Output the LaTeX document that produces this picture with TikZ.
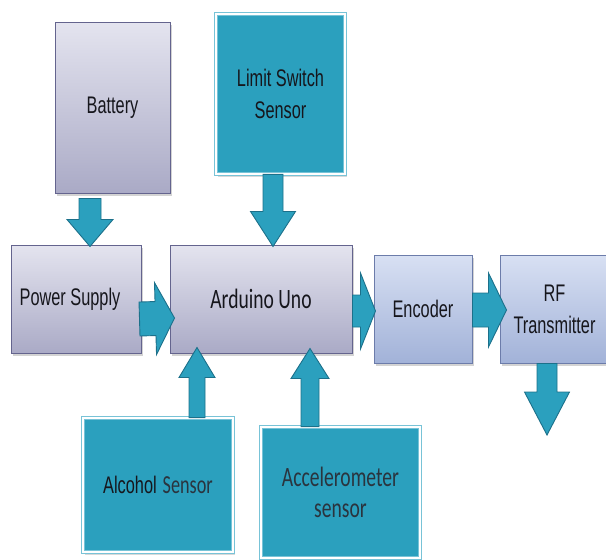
\documentclass[tikz,border=0pt]{standalone}
\usepackage{fontspec}
\setmainfont{Liberation Sans}
\newfontfamily\narrowfont[FakeStretch=0.68]{Liberation Sans}
\newfontfamily\calfont[FakeStretch=0.7]{Carlito}
\usetikzlibrary{positioning,calc,shadows}

\definecolor{sensorteal}{RGB}{43,160,190}
\definecolor{edgeteal}{RGB}{120,195,215}
\definecolor{arrowline}{RGB}{28,112,138}
\definecolor{graytop}{RGB}{228,228,239}
\definecolor{graybot}{RGB}{170,170,198}
\definecolor{grayline}{RGB}{100,100,142}
\definecolor{bluetop}{RGB}{216,224,243}
\definecolor{bluebot}{RGB}{162,178,216}
\definecolor{blueline}{RGB}{108,124,170}
\definecolor{darktext}{RGB}{22,22,28}
\definecolor{slatetext}{RGB}{42,52,62}

\begin{document}
\begin{tikzpicture}[x=1pt, y=-1pt,
    graybox/.style={top color=graytop, bottom color=graybot, draw=grayline, line width=1pt,
        drop shadow={opacity=0.35, shadow xshift=2pt, shadow yshift=-3pt},
        align=center, text=darktext},
    bluebox/.style={top color=bluetop, bottom color=bluebot, draw=blueline, line width=1pt,
        drop shadow={opacity=0.35, shadow xshift=2pt, shadow yshift=-3pt},
        align=center, text=darktext},
    sensorbox/.style={fill=sensorteal, draw=edgeteal, line width=0.7pt, double=white, double distance=2.5pt,
        drop shadow={opacity=0.3, shadow xshift=2pt, shadow yshift=-3pt},
        align=center, text=darktext},
    armtext/.style={font=\narrowfont\fontsize{24}{32}\selectfont},
    caltext/.style={font=\calfont\fontsize{28}{31}\selectfont},
    shaftw/.store in=\shaftw, headw/.store in=\headw, headl/.store in=\headl,
    shaftw=10pt, headw=22pt, headl=25pt,
    % block arrow drawn from start to tip
    barrow/.style={draw=arrowline, fill=sensorteal, line width=0.9pt, line join=miter,
        to path={
            ($(\tikztostart)!\shaftw!90:(\tikztotarget)$)
            -- ($(\tikztotarget)!\headl!(\tikztostart)!\shaftw!90:(\tikztotarget)$)
            -- ($(\tikztotarget)!\headl!(\tikztostart)!\headw!90:(\tikztotarget)$)
            -- (\tikztotarget)
            -- ($(\tikztotarget)!\headl!(\tikztostart)!\headw!-90:(\tikztotarget)$)
            -- ($(\tikztotarget)!\headl!(\tikztostart)!\shaftw!-90:(\tikztotarget)$)
            -- ($(\tikztostart)!\shaftw!-90:(\tikztotarget)$) -- cycle}}
]
    \clip (0,0) rectangle (606,560);

    \node[graybox, armtext, minimum width=115pt, minimum height=171pt] (battery) at (112.5,107.5) {Battery};
    \node[sensorbox, armtext, minimum width=129pt, minimum height=160pt] (limit) at (280.5,94) {Limit Switch\\Sensor};

    \node[graybox, armtext, minimum width=130pt, minimum height=108pt] (power) at (76,299) {Power Supply\hspace*{12pt}};
    \node[graybox, caltext, minimum width=182pt, minimum height=108pt, right=28pt of power] (arduino) {Arduino Uno};
    \node[bluebox, armtext, minimum width=98pt, minimum height=108pt, right=21pt of arduino, yshift=-10pt] (encoder) {Encoder};
    \node[bluebox, armtext, minimum width=109pt, minimum height=108pt, right=27pt of encoder] (rf) {RF\\Transmitter};

    \node[sensorbox, minimum width=150pt, minimum height=134pt] (alcohol) at (158,485)
        {{\narrowfont\fontsize{24}{32}\selectfont Alcohol}\hspace{6pt}{\calfont\fontsize{26}{31}\selectfont\color{slatetext}Sensor}};
    \node[sensorbox, caltext, text=slatetext, minimum width=159pt, minimum height=131pt] (accel) at (340.5,492.5)
        {Accelerometer\\sensor};

    \coordinate (rfout) at (547,435);

    \draw[barrow, shaftw=11pt, headw=23pt, headl=27pt] ([xshift=-22.5pt,yshift=-5pt]battery.south) to ([xshift=14pt,yshift=-2pt]power.north);
    \draw[barrow, shaftw=10pt, headw=22.5pt, headl=35pt] ([xshift=-7.5pt]limit.south) to ([xshift=12pt,yshift=-2pt]arduino.north);
    \draw[barrow, shaftw=17pt, headw=36pt, headl=19pt] ([xshift=-2pt,yshift=-20pt]power.east) to ([xshift=5pt,yshift=-19pt]arduino.west);
    \draw[barrow, shaftw=16pt, headw=38pt, headl=15pt] ([yshift=-12pt]arduino.east) to ([xshift=2pt,yshift=-2pt]encoder.west);
    \draw[barrow, shaftw=17pt, headw=37pt, headl=18pt] ([yshift=-1pt]encoder.east) to ([xshift=7pt,yshift=-1pt]rf.west);
    \draw[barrow, shaftw=10pt, headw=22.5pt, headl=43pt] ([xshift=-7.5pt]rf.south) to (rfout);
    \draw[barrow, shaftw=8pt, headw=18pt, headl=30pt] ([xshift=39pt]alcohol.north) to ([xshift=-64pt,yshift=6pt]arduino.south);
    \draw[barrow, shaftw=9pt, headw=19pt, headl=30pt] ([xshift=-30.5pt]accel.north) to ([xshift=49pt,yshift=5pt]arduino.south);
\end{tikzpicture}
\end{document}
